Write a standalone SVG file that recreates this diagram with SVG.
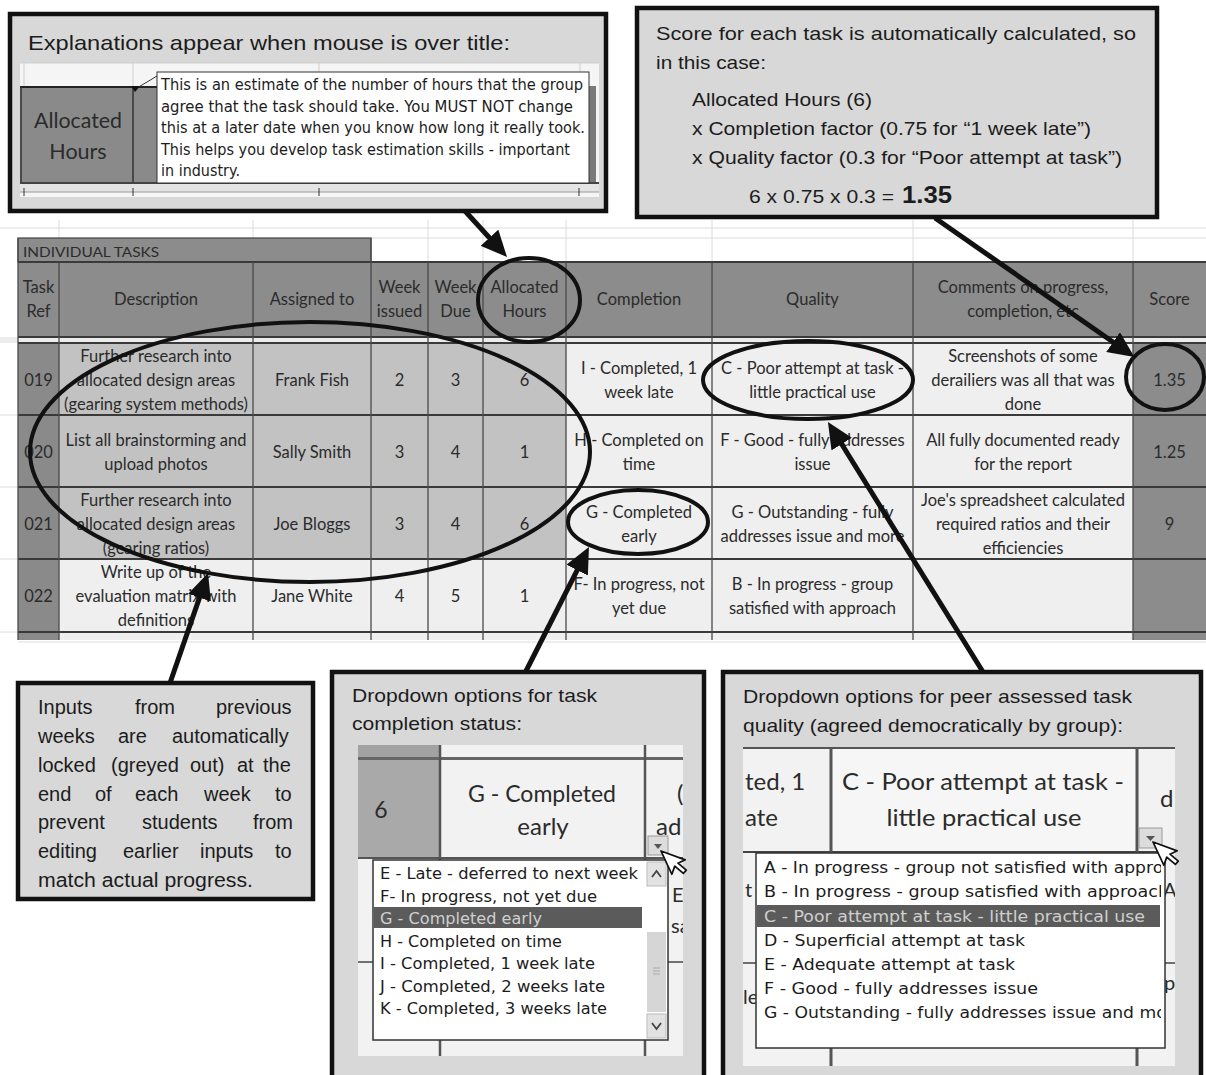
<svg xmlns="http://www.w3.org/2000/svg" width="1206" height="1075" viewBox="0 0 1206 1075">
<defs>
<style>
.cal{font-family:Lato,"Liberation Sans",sans-serif;fill:#2b2b2b;font-size:16.5px;text-anchor:middle}
.ar{font-family:"Liberation Sans",Arial,sans-serif;fill:#1c1c1c;font-size:19px}
.tah{font-family:"DejaVu Sans",sans-serif;fill:#1c1c1c;font-size:15px}
.callout{fill:#d8d8d8;stroke:#111;stroke-width:4.5}
.ell{fill:none;stroke:#111;stroke-width:4}
.arrow{stroke:#111;stroke-width:5;fill:none;marker-end:url(#ah)}
.grid{stroke:#dcdcdc;stroke-width:1}
.vb{stroke:#4a4a4a;stroke-width:1.3}
.hb{stroke:#3a3a3a;stroke-width:2}
.hdr{fill:#8c8c8c}
.refc{fill:#8a8a8a}
.lock{fill:#c2c2c2}
.open{fill:#efefef}
.cur{fill:#fff;stroke:#111;stroke-width:1.3;stroke-linejoin:round}
</style>
<marker id="ah" markerUnits="userSpaceOnUse" markerWidth="26" markerHeight="24" refX="6" refY="12" orient="auto"><path d="M0,0 L26,12 L0,24 z" fill="#111"/></marker>
<clipPath id="cpBM"><rect x="358" y="745" width="325" height="311"/></clipPath>
<clipPath id="cpBR"><rect x="743" y="747" width="432" height="319"/></clipPath>
<clipPath id="cpList"><rect x="757" y="854" width="404" height="193"/></clipPath>
</defs>
<rect x="0" y="0" width="1206" height="1075" fill="#ffffff"/>

<!-- background faint grid -->
<g id="bg-grid">
<line class="grid" x1="0" y1="228" x2="1206" y2="228"/>
<line class="grid" x1="371" y1="238" x2="1206" y2="238"/>
<line class="grid" x1="59" y1="220" x2="59" y2="238"/>
<line class="grid" x1="253" y1="220" x2="253" y2="238"/>
<line class="grid" x1="428" y1="220" x2="428" y2="262"/>
<line class="grid" x1="483" y1="220" x2="483" y2="262"/>
<line class="grid" x1="566" y1="220" x2="566" y2="262"/>
<line class="grid" x1="712" y1="220" x2="712" y2="262"/>
<line class="grid" x1="913" y1="220" x2="913" y2="262"/>
<line class="grid" x1="1133" y1="220" x2="1133" y2="262"/>
<line class="grid" x1="0" y1="415" x2="18" y2="415"/>
<line class="grid" x1="0" y1="487" x2="18" y2="487"/>
<line class="grid" x1="0" y1="559" x2="18" y2="559"/>
<line class="grid" x1="0" y1="632" x2="18" y2="632"/>
<line class="grid" x1="18" y1="642" x2="1206" y2="642"/>
</g>

<!-- table -->
<g id="table">
<rect class="hdr" x="18" y="238" width="353" height="24" stroke="#444" stroke-width="1.2"/>
<text class="cal" x="23" y="257" style="text-anchor:start;font-size:14px" textLength="136" lengthAdjust="spacingAndGlyphs">INDIVIDUAL TASKS</text>
<rect class="hdr" x="18" y="262" width="1188" height="75"/>
<rect x="0" y="337" width="1206" height="6" fill="#ececec"/>
<rect class="refc" x="18" y="343" width="41" height="297"/>
<rect class="lock" x="59" y="343" width="507" height="216"/>
<rect class="open" x="59" y="559" width="507" height="81"/>
<rect class="open" x="566" y="343" width="567" height="297"/>
<rect class="hdr" x="1133" y="343" width="73" height="297"/>
<line class="hb" x1="18" y1="262" x2="1206" y2="262"/>
<line class="hb" x1="18" y1="337" x2="1206" y2="337"/>
<line class="hb" x1="18" y1="343" x2="1206" y2="343"/>
<line class="hb" x1="18" y1="415" x2="1206" y2="415"/>
<line class="hb" x1="18" y1="487" x2="1206" y2="487"/>
<line class="hb" x1="18" y1="559" x2="1206" y2="559"/>
<line class="hb" x1="18" y1="632" x2="1206" y2="632"/>
<line class="vb" x1="18" y1="238" x2="18" y2="640"/>
<line class="vb" x1="59" y1="262" x2="59" y2="640"/>
<line class="vb" x1="253" y1="262" x2="253" y2="640"/>
<line class="vb" x1="371" y1="238" x2="371" y2="640"/>
<line class="vb" x1="428" y1="262" x2="428" y2="640"/>
<line class="vb" x1="483" y1="262" x2="483" y2="640"/>
<line class="vb" x1="566" y1="262" x2="566" y2="640"/>
<line class="vb" x1="712" y1="262" x2="712" y2="640"/>
<line class="vb" x1="913" y1="262" x2="913" y2="640"/>
<line class="vb" x1="1133" y1="262" x2="1133" y2="640"/>
<text class="cal" x="38.5" y="293">Task</text><text class="cal" x="38.5" y="317">Ref</text>
<text class="cal" x="156" y="305">Description</text>
<text class="cal" x="312" y="305">Assigned to</text>
<text class="cal" x="399.5" y="293">Week</text><text class="cal" x="399.5" y="317">issued</text>
<text class="cal" x="455.5" y="293">Week</text><text class="cal" x="455.5" y="317">Due</text>
<text class="cal" x="524.5" y="293">Allocated</text><text class="cal" x="524.5" y="317">Hours</text>
<text class="cal" x="639" y="305">Completion</text>
<text class="cal" x="812.5" y="305">Quality</text>
<text class="cal" x="1023" y="293">Comments on progress,</text><text class="cal" x="1023" y="317">completion, etc</text>
<text class="cal" x="1169.5" y="305">Score</text>
<text class="cal" x="38.5" y="386">019</text>
<text class="cal" x="156" y="362">Further research into</text><text class="cal" x="156" y="386">allocated design areas</text><text class="cal" x="156" y="410">(gearing system methods)</text>
<text class="cal" x="312" y="386">Frank Fish</text>
<text class="cal" x="399.5" y="386">2</text><text class="cal" x="455.5" y="386">3</text><text class="cal" x="524.5" y="386">6</text>
<text class="cal" x="639" y="374">I - Completed, 1</text><text class="cal" x="639" y="398">week late</text>
<text class="cal" x="812.5" y="374">C - Poor attempt at task -</text><text class="cal" x="812.5" y="398">little practical use</text>
<text class="cal" x="1023" y="362">Screenshots of some</text><text class="cal" x="1023" y="386">derailiers was all that was</text><text class="cal" x="1023" y="410">done</text>
<text class="cal" x="1169.5" y="386">1.35</text>
<text class="cal" x="38.5" y="458">020</text>
<text class="cal" x="156" y="446">List all brainstorming and</text><text class="cal" x="156" y="470">upload photos</text>
<text class="cal" x="312" y="458">Sally Smith</text>
<text class="cal" x="399.5" y="458">3</text><text class="cal" x="455.5" y="458">4</text><text class="cal" x="524.5" y="458">1</text>
<text class="cal" x="639" y="446">H - Completed on</text><text class="cal" x="639" y="470">time</text>
<text class="cal" x="812.5" y="446">F - Good - fully addresses</text><text class="cal" x="812.5" y="470">issue</text>
<text class="cal" x="1023" y="446">All fully documented ready</text><text class="cal" x="1023" y="470">for the report</text>
<text class="cal" x="1169.5" y="458">1.25</text>
<text class="cal" x="38.5" y="530">021</text>
<text class="cal" x="156" y="506">Further research into</text><text class="cal" x="156" y="530">allocated design areas</text><text class="cal" x="156" y="554">(gearing ratios)</text>
<text class="cal" x="312" y="530">Joe Bloggs</text>
<text class="cal" x="399.5" y="530">3</text><text class="cal" x="455.5" y="530">4</text><text class="cal" x="524.5" y="530">6</text>
<text class="cal" x="639" y="518">G - Completed</text><text class="cal" x="639" y="542">early</text>
<text class="cal" x="812.5" y="518">G - Outstanding - fully</text><text class="cal" x="812.5" y="542">addresses issue and more</text>
<text class="cal" x="1023" y="506">Joe's spreadsheet calculated</text><text class="cal" x="1023" y="530">required ratios and their</text><text class="cal" x="1023" y="554">efficiencies</text>
<text class="cal" x="1169.5" y="530">9</text>
<text class="cal" x="38.5" y="602">022</text>
<text class="cal" x="156" y="578">Write up of the</text><text class="cal" x="156" y="602">evaluation matrix with</text><text class="cal" x="156" y="626">definitions</text>
<text class="cal" x="312" y="602">Jane White</text>
<text class="cal" x="399.5" y="602">4</text><text class="cal" x="455.5" y="602">5</text><text class="cal" x="524.5" y="602">1</text>
<text class="cal" x="639" y="590">F- In progress, not</text><text class="cal" x="639" y="614">yet due</text>
<text class="cal" x="812.5" y="590">B - In progress - group</text><text class="cal" x="812.5" y="614">satisfied with approach</text>
</g>

<!-- highlight ellipses -->
<g id="ellipses">
<ellipse class="ell" cx="310" cy="452" rx="280" ry="130"/>
<ellipse class="ell" cx="529" cy="300" rx="51" ry="42"/>
<ellipse class="ell" cx="808" cy="380" rx="105" ry="39"/>
<ellipse class="ell" cx="638" cy="522" rx="70" ry="32"/>
<ellipse class="ell" cx="1165" cy="377" rx="39" ry="33"/>
</g>

<!-- connectors -->
<g id="connectors">
<line class="arrow" x1="465" y1="211" x2="493.5" y2="242.2"/>
<line class="arrow" x1="935" y1="218" x2="1118" y2="345.5"/>
<line class="arrow" x1="170" y1="683" x2="201.5" y2="591.9"/>
<line class="arrow" x1="525" y1="673" x2="579.9" y2="564.8"/>
<line class="arrow" x1="983" y1="672" x2="838.5" y2="439"/>
</g>

<!-- top-left callout -->
<g id="callout-tooltip">
<rect class="callout" x="10" y="14" width="596" height="197"/>
<text class="ar" x="28" y="50" style="font-size:21px" textLength="482" lengthAdjust="spacingAndGlyphs">Explanations appear when mouse is over title:</text>
<rect x="20" y="63" width="579" height="134" fill="#f5f5f5"/>
<line x1="20" y1="63" x2="599" y2="63" stroke="#cfcfcf"/>
<line x1="24" y1="63" x2="24" y2="87" stroke="#cfcfcf"/>
<line x1="133" y1="63" x2="133" y2="87" stroke="#cfcfcf"/>
<line x1="319" y1="63" x2="319" y2="87" stroke="#cfcfcf"/>
<line x1="580" y1="63" x2="580" y2="87" stroke="#cfcfcf"/>
<rect x="20" y="87" width="137" height="96" fill="#8a8a8a"/>
<line x1="20" y1="87" x2="157" y2="87" stroke="#222" stroke-width="2"/>
<line x1="21" y1="87" x2="21" y2="183" stroke="#333" stroke-width="1.5"/>
<line x1="133" y1="87" x2="133" y2="183" stroke="#333" stroke-width="1.5"/>
<rect x="589" y="86" width="7" height="96" fill="#7a7a7a"/>
<line x1="20" y1="183" x2="599" y2="183" stroke="#444" stroke-width="2"/>
<rect x="20" y="184" width="579" height="8" fill="#e4e4e4"/>
<line x1="20" y1="192" x2="599" y2="192" stroke="#9a9a9a"/>
<line x1="24" y1="188" x2="24" y2="196" stroke="#333"/>
<line x1="133" y1="188" x2="133" y2="196" stroke="#333"/>
<line x1="319" y1="188" x2="319" y2="196" stroke="#333"/>
<line x1="579" y1="188" x2="579" y2="196" stroke="#333"/>
<text class="cal" x="78" y="128" style="font-size:21.5px" textLength="88" lengthAdjust="spacingAndGlyphs">Allocated</text>
<text class="cal" x="78" y="159" style="font-size:21.5px">Hours</text>
<rect x="157" y="72" width="432" height="111" fill="#ffffff" stroke="#333" stroke-width="1"/>
<line x1="157" y1="76" x2="137" y2="88" stroke="#333" stroke-width="1"/>
<polygon points="131,86 140,86 135,92" fill="#111"/>
<text class="tah" x="161" y="90" textLength="422" lengthAdjust="spacingAndGlyphs">This is an estimate of the number of hours that the group</text>
<text class="tah" x="161" y="112" textLength="412" lengthAdjust="spacingAndGlyphs">agree that the task should take.  You MUST NOT change</text>
<text class="tah" x="161" y="133" textLength="424" lengthAdjust="spacingAndGlyphs">this at a later date when you know how long it really took.</text>
<text class="tah" x="161" y="155" textLength="409" lengthAdjust="spacingAndGlyphs">This helps you develop task estimation skills - important</text>
<text class="tah" x="161" y="176" textLength="79" lengthAdjust="spacingAndGlyphs">in industry.</text>
</g>

<!-- top-right callout -->
<g id="callout-score">
<rect class="callout" x="637" y="8" width="520" height="209"/>
<text class="ar" x="656" y="40" textLength="480" lengthAdjust="spacingAndGlyphs">Score for each task is automatically calculated, so</text>
<text class="ar" x="656" y="69" textLength="110" lengthAdjust="spacingAndGlyphs">in this case:</text>
<text class="ar" x="692" y="106" textLength="180" lengthAdjust="spacingAndGlyphs">Allocated Hours (6)</text>
<text class="ar" x="692" y="135" textLength="399" lengthAdjust="spacingAndGlyphs">x Completion factor (0.75 for “1 week late”)</text>
<text class="ar" x="692" y="164" textLength="430" lengthAdjust="spacingAndGlyphs">x Quality factor (0.3 for “Poor attempt at task”)</text>
<text class="ar" x="749" y="203" textLength="145" lengthAdjust="spacingAndGlyphs">6 x 0.75 x 0.3 =</text>
<text class="ar" x="902" y="203" style="font-size:24px;font-weight:bold" textLength="50" lengthAdjust="spacingAndGlyphs">1.35</text>
</g>

<!-- bottom-left callout -->
<g id="callout-locked" class="ar" style="font-size:20px">
<rect class="callout" x="18" y="683" width="295" height="216"/>
<text y="714"><tspan x="38">Inputs</tspan><tspan x="135">from</tspan><tspan x="216">previous</tspan></text>
<text y="743"><tspan x="38">weeks</tspan><tspan x="118">are</tspan><tspan x="172">automatically</tspan></text>
<text y="772"><tspan x="38">locked</tspan><tspan x="111">(greyed</tspan><tspan x="190">out)</tspan><tspan x="237">at</tspan><tspan x="263">the</tspan></text>
<text y="801"><tspan x="38">end</tspan><tspan x="95">of</tspan><tspan x="135">each</tspan><tspan x="204">week</tspan><tspan x="275">to</tspan></text>
<text y="829"><tspan x="38">prevent</tspan><tspan x="142">students</tspan><tspan x="253">from</tspan></text>
<text y="858"><tspan x="38">editing</tspan><tspan x="123">earlier</tspan><tspan x="200">inputs</tspan><tspan x="275">to</tspan></text>
<text x="38" y="887" textLength="215" lengthAdjust="spacingAndGlyphs">match actual progress.</text>
</g>

<!-- bottom-middle callout -->
<g id="callout-completion">
<rect class="callout" x="332" y="672" width="372" height="420"/>
<text class="ar" x="352" y="702" textLength="245" lengthAdjust="spacingAndGlyphs">Dropdown options for task</text>
<text class="ar" x="352" y="730" textLength="170" lengthAdjust="spacingAndGlyphs">completion status:</text>
<g clip-path="url(#cpBM)">
<rect x="358" y="745" width="325" height="311" fill="#f2f2f2"/>
<rect x="358" y="745" width="82" height="12" fill="#a2a2a2"/>
<rect x="358" y="760" width="82" height="98" fill="#a9a9a9"/>
<line x1="358" y1="758.5" x2="683" y2="758.5" stroke="#666" stroke-width="3"/>
<line x1="358" y1="858" x2="683" y2="858" stroke="#555" stroke-width="2"/>
<line x1="440" y1="745" x2="440" y2="1056" stroke="#555" stroke-width="2.5"/>
<line x1="645" y1="745" x2="645" y2="1056" stroke="#555" stroke-width="2.5"/>
<line x1="358" y1="962" x2="683" y2="962" stroke="#444" stroke-width="1.5"/>
<text class="cal" x="381" y="818" style="font-size:23px">6</text>
<text class="cal" x="542" y="802" style="font-size:24px" textLength="148" lengthAdjust="spacingAndGlyphs">G - Completed</text>
<text class="cal" x="543" y="835" style="font-size:24px">early</text>
<text class="cal" x="677" y="802" style="font-size:24px;text-anchor:start">(</text>
<text class="cal" x="656" y="835" style="font-size:24px;text-anchor:start">ad</text>
<text class="cal" x="672" y="902" style="font-size:20px;text-anchor:start">E</text>
<text class="cal" x="671" y="933" style="font-size:20px;text-anchor:start">sa</text>
<rect x="648" y="836" width="20" height="19" fill="#dcdcdc" stroke="#9a9a9a"/>
<path d="M654,844 L662,844 L658,849 z" fill="#555"/>
<rect x="373" y="860" width="295" height="180" fill="#ffffff" stroke="#333" stroke-width="1.5"/>
<rect x="374" y="907" width="268" height="21" fill="#5b5b5b"/>
<rect x="647" y="862" width="19" height="24" fill="#e2e2e2" stroke="#bbb"/>
<path d="M652,877 L656.5,871 L661,877" fill="none" stroke="#444" stroke-width="1.8"/>
<rect x="647" y="932" width="19" height="80" fill="#d6d6d6"/>
<line x1="653" y1="968" x2="660" y2="968" stroke="#aaa"/>
<line x1="653" y1="971" x2="660" y2="971" stroke="#aaa"/>
<line x1="653" y1="974" x2="660" y2="974" stroke="#aaa"/>
<rect x="647" y="1014" width="19" height="24" fill="#e2e2e2" stroke="#bbb"/>
<path d="M652,1023 L656.5,1029 L661,1023" fill="none" stroke="#444" stroke-width="1.8"/>
<text class="tah" x="380" y="879" textLength="258" lengthAdjust="spacingAndGlyphs">E - Late - deferred to next week</text>
<text class="tah" x="380" y="902" textLength="217" lengthAdjust="spacingAndGlyphs">F- In progress, not yet due</text>
<text class="tah" x="380" y="924" style="fill:#cfcfcf" textLength="162" lengthAdjust="spacingAndGlyphs">G - Completed early</text>
<text class="tah" x="380" y="947" textLength="182" lengthAdjust="spacingAndGlyphs">H - Completed on time</text>
<text class="tah" x="380" y="969" textLength="215" lengthAdjust="spacingAndGlyphs">I - Completed, 1 week late</text>
<text class="tah" x="380" y="992" textLength="225" lengthAdjust="spacingAndGlyphs">J - Completed, 2 weeks late</text>
<text class="tah" x="380" y="1014" textLength="227" lengthAdjust="spacingAndGlyphs">K - Completed, 3 weeks late</text>
</g>
<path class="cur" transform="translate(661,851) rotate(-25) scale(1.35)" d="M0,0 L0,19 L4.5,14.5 L8,22 L11,20.7 L7.6,13.5 L13.5,13.5 Z"/>
</g>

<!-- bottom-right callout -->
<g id="callout-quality">
<rect class="callout" x="723" y="672" width="478" height="420"/>
<text class="ar" x="743" y="703" textLength="389" lengthAdjust="spacingAndGlyphs">Dropdown options for peer assessed task</text>
<text class="ar" x="743" y="732" textLength="380" lengthAdjust="spacingAndGlyphs">quality (agreed democratically by group):</text>
<g clip-path="url(#cpBR)">
<rect x="743" y="747" width="432" height="319" fill="#f2f2f2"/>
<rect x="830" y="747" width="307" height="105" fill="#f6f6f6"/>
<line x1="743" y1="748" x2="1175" y2="748" stroke="#555" stroke-width="2"/>
<line x1="743" y1="852" x2="1175" y2="852" stroke="#444" stroke-width="2"/>
<line x1="831" y1="747" x2="831" y2="1066" stroke="#555" stroke-width="3"/>
<line x1="1137" y1="747" x2="1137" y2="1066" stroke="#555" stroke-width="3"/>
<line x1="743" y1="963" x2="1175" y2="963" stroke="#444" stroke-width="1.5"/>
<text class="cal" x="745" y="790" style="font-size:24px;text-anchor:start">ted, 1</text>
<text class="cal" x="745" y="826" style="font-size:24px;text-anchor:start">ate</text>
<text class="cal" x="983" y="790" style="font-size:24px" textLength="282" lengthAdjust="spacingAndGlyphs">C - Poor attempt at task -</text>
<text class="cal" x="984" y="826" style="font-size:24px" textLength="195" lengthAdjust="spacingAndGlyphs">little practical use</text>
<text class="cal" x="1160" y="807" style="font-size:24px;text-anchor:start">d</text>
<text class="cal" x="745" y="897" style="font-size:20px;text-anchor:start">t</text>
<text class="cal" x="743" y="1004" style="font-size:20px;text-anchor:start">le</text>
<text class="cal" x="1163" y="897" style="font-size:20px;text-anchor:start">Al</text>
<text class="cal" x="1164" y="990" style="font-size:20px;text-anchor:start">pe</text>
<rect x="1139" y="828" width="23" height="20" fill="#dcdcdc" stroke="#9a9a9a"/>
<path d="M1146,836 L1155,836 L1150.5,841 z" fill="#555"/>
<rect x="756" y="853" width="409" height="195" fill="#ffffff" stroke="#333" stroke-width="1.5"/>
<rect x="757" y="905" width="403" height="22" fill="#5b5b5b"/>
<g clip-path="url(#cpList)">
<text class="tah" x="764" y="873" textLength="430" lengthAdjust="spacingAndGlyphs">A - In progress - group not satisfied with approach</text>
<text class="tah" x="764" y="897" textLength="405" lengthAdjust="spacingAndGlyphs">B - In progress - group satisfied with approach</text>
<text class="tah" x="764" y="922" style="fill:#cfcfcf" textLength="381" lengthAdjust="spacingAndGlyphs">C - Poor attempt at task - little practical use</text>
<text class="tah" x="764" y="946" textLength="261" lengthAdjust="spacingAndGlyphs">D - Superficial attempt at task</text>
<text class="tah" x="764" y="970" textLength="251" lengthAdjust="spacingAndGlyphs">E - Adequate attempt at task</text>
<text class="tah" x="764" y="994" textLength="274" lengthAdjust="spacingAndGlyphs">F - Good - fully addresses issue</text>
<text class="tah" x="764" y="1018" textLength="420" lengthAdjust="spacingAndGlyphs">G - Outstanding - fully addresses issue and more</text>
</g>
</g>
<path class="cur" transform="translate(1153,842) rotate(-25) scale(1.35)" d="M0,0 L0,19 L4.5,14.5 L8,22 L11,20.7 L7.6,13.5 L13.5,13.5 Z"/>
</g>
</svg>
